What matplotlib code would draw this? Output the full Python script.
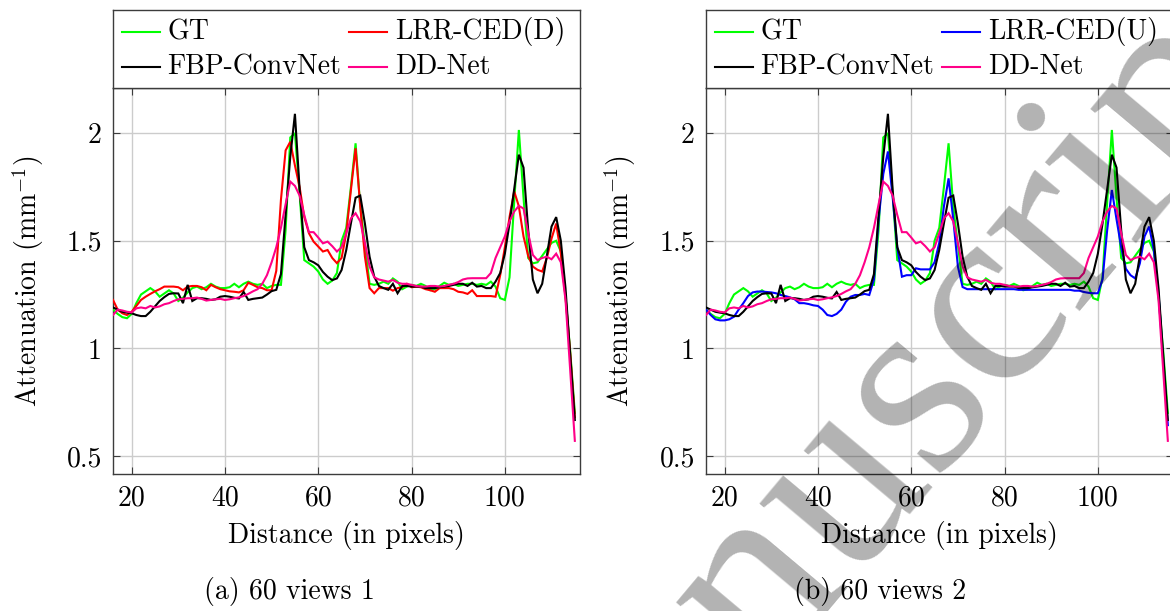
import matplotlib
matplotlib.use("Agg")
import matplotlib.pyplot as plt
from matplotlib.lines import Line2D

plt.rcParams['font.family'] = ['cmr10', 'DejaVu Serif']
plt.rcParams['mathtext.fontset'] = 'cm'
plt.rcParams['axes.formatter.use_mathtext'] = True
plt.rcParams['axes.unicode_minus'] = False

# ---------------- data ----------------
distance = list(range(16, 116))

gt = [1.18, 1.16, 1.145, 1.14, 1.16, 1.21, 1.25, 1.265, 1.28, 1.265,
      1.24, 1.255, 1.27, 1.255, 1.22, 1.235, 1.26, 1.28, 1.287, 1.275,
      1.284, 1.30, 1.287, 1.28, 1.28, 1.284, 1.30, 1.284, 1.30, 1.31,
      1.30, 1.295, 1.30, 1.28, 1.29, 1.295, 1.295, 1.55, 1.98, 2.00,
      1.72, 1.41, 1.395, 1.38, 1.357, 1.32, 1.30, 1.315, 1.35, 1.50,
      1.56, 1.75, 1.953, 1.66, 1.48, 1.30, 1.295, 1.30, 1.31, 1.30,
      1.325, 1.31, 1.275, 1.287, 1.295, 1.29, 1.30, 1.29, 1.27, 1.275,
      1.29, 1.305, 1.295, 1.30, 1.29, 1.295, 1.30, 1.30, 1.295, 1.30,
      1.295, 1.31, 1.287, 1.233, 1.225, 1.33, 1.68, 2.015, 1.70, 1.42,
      1.395, 1.40, 1.43, 1.46, 1.49, 1.50, 1.45, 1.24, 0.99, 0.70]

fbp = [1.19, 1.18, 1.17, 1.166, 1.163, 1.155, 1.15, 1.15, 1.17, 1.195,
       1.22, 1.238, 1.253, 1.256, 1.255, 1.21, 1.295, 1.22, 1.233, 1.233,
       1.23, 1.225, 1.228, 1.24, 1.243, 1.24, 1.235, 1.232, 1.262, 1.225,
       1.23, 1.233, 1.236, 1.25, 1.266, 1.272, 1.345, 1.62, 1.89, 2.09,
       1.74, 1.47, 1.41, 1.40, 1.386, 1.355, 1.333, 1.317, 1.325, 1.364,
       1.457, 1.581, 1.70, 1.71, 1.58, 1.426, 1.333, 1.29, 1.28, 1.272,
       1.30, 1.256, 1.29, 1.29, 1.287, 1.287, 1.287, 1.28, 1.28, 1.28,
       1.284, 1.287, 1.29, 1.295, 1.30, 1.30, 1.29, 1.305, 1.287, 1.29,
       1.28, 1.28, 1.31, 1.35, 1.44, 1.58, 1.74, 1.90, 1.84, 1.55,
       1.32, 1.256, 1.30, 1.43, 1.566, 1.61, 1.50, 1.28, 0.97, 0.667]

lrr_d = [1.225, 1.18, 1.163, 1.155, 1.17, 1.197, 1.225, 1.24, 1.253, 1.265,
         1.275, 1.287, 1.287, 1.287, 1.284, 1.27, 1.287, 1.29, 1.29, 1.284,
         1.27, 1.295, 1.284, 1.275, 1.27, 1.265, 1.263, 1.26, 1.27, 1.305,
         1.295, 1.284, 1.28, 1.27, 1.27, 1.36, 1.69, 1.92, 1.96, 1.85,
         1.75, 1.61, 1.535, 1.496, 1.473, 1.45, 1.457, 1.42, 1.396, 1.42,
         1.535, 1.736, 1.93, 1.66, 1.426, 1.28, 1.256, 1.28, 1.28, 1.28,
         1.268, 1.28, 1.284, 1.30, 1.284, 1.287, 1.284, 1.275, 1.27, 1.263,
         1.28, 1.28, 1.28, 1.275, 1.263, 1.26, 1.253, 1.27, 1.243, 1.243,
         1.243, 1.243, 1.24, 1.34, 1.47, 1.61, 1.73, 1.66, 1.52, 1.43,
         1.38, 1.365, 1.357, 1.42, 1.51, 1.58, 1.44, 1.24, 0.98, 0.68]

lrr_u = [1.18, 1.155, 1.135, 1.13, 1.13, 1.135, 1.147, 1.18, 1.21, 1.243,
         1.26, 1.264, 1.264, 1.262, 1.26, 1.256, 1.248, 1.243, 1.237, 1.228,
         1.21, 1.21, 1.206, 1.20, 1.197, 1.18, 1.155, 1.15, 1.16, 1.18,
         1.217, 1.24, 1.248, 1.248, 1.253, 1.248, 1.32, 1.597, 1.81, 1.915,
         1.705, 1.47, 1.333, 1.34, 1.34, 1.372, 1.367, 1.367, 1.367, 1.40,
         1.49, 1.66, 1.79, 1.60, 1.38, 1.285, 1.275, 1.275, 1.275, 1.275,
         1.275, 1.275, 1.275, 1.275, 1.275, 1.275, 1.275, 1.272, 1.272, 1.272,
         1.272, 1.272, 1.272, 1.272, 1.272, 1.272, 1.272, 1.272, 1.272, 1.268,
         1.268, 1.262, 1.258, 1.256, 1.256, 1.32, 1.55, 1.736, 1.60, 1.47,
         1.37, 1.34, 1.325, 1.395, 1.52, 1.566, 1.457, 1.256, 0.945, 0.643]

ddnet = [1.155, 1.18, 1.176, 1.17, 1.167, 1.186, 1.19, 1.186, 1.197, 1.19,
         1.195, 1.205, 1.21, 1.22, 1.228, 1.23, 1.233, 1.233, 1.236, 1.23,
         1.222, 1.225, 1.228, 1.23, 1.225, 1.228, 1.233, 1.237, 1.243, 1.253,
         1.265, 1.275, 1.30, 1.34, 1.40, 1.47, 1.56, 1.67, 1.775, 1.755,
         1.71, 1.62, 1.54, 1.54, 1.515, 1.488, 1.496, 1.475, 1.45, 1.47,
         1.535, 1.604, 1.628, 1.59, 1.49, 1.38, 1.33, 1.32, 1.315, 1.31,
         1.318, 1.305, 1.30, 1.30, 1.295, 1.29, 1.287, 1.287, 1.29, 1.29,
         1.287, 1.29, 1.295, 1.30, 1.308, 1.32, 1.325, 1.326, 1.326, 1.326,
         1.326, 1.35, 1.42, 1.47, 1.52, 1.59, 1.636, 1.662, 1.65, 1.535,
         1.434, 1.41, 1.42, 1.426, 1.414, 1.44, 1.40, 1.225, 0.90, 0.57]

xticks = [20, 40, 60, 80, 100]
yticks = [0.5, 1, 1.5, 2]
ytick_labels = ['0.5', '1', '1.5', '2']

panels = [
    {"series": [("GT", gt), ("LRR-CED(D)", lrr_d), ("FBP-ConvNet", fbp), ("DD-Net", ddnet)],
     "caption": "(a) 60 views 1"},
    {"series": [("GT", gt), ("LRR-CED(U)", lrr_u), ("FBP-ConvNet", fbp), ("DD-Net", ddnet)],
     "caption": "(b) 60 views 2"},
]
colors = {"GT": "#00ff00", "LRR-CED(D)": "#ff0000", "LRR-CED(U)": "#0000ff",
          "FBP-ConvNet": "#000000", "DD-Net": "#ff0088"}

# ---------------- figure ----------------
W, H = 1170, 611
fig = plt.figure(figsize=(W / 100, H / 100), dpi=100)
fig.patch.set_facecolor('white')

spine_col = '#3c3c3c'
fs = 20

ax_left_px = [113, 706]
ax_w_px = 466.5
ax_top_px, ax_bot_px = 88, 474
leg_top_px = 10
caption_x_px = [289, 880]
ylabel_x_px = [28, 620]

for i, panel in enumerate(panels):
    lx = ax_left_px[i]
    ax = fig.add_axes([lx / W, 1 - ax_bot_px / H, ax_w_px / W, (ax_bot_px - ax_top_px) / H])
    for name, vals in panel["series"]:
        ax.plot(distance, vals, color=colors[name], lw=1.5, solid_joinstyle='miter', zorder=3)
    ax.set_xlim(16, 116)
    ax.set_ylim(0.416, 2.21)
    ax.set_xticks(xticks)
    ax.set_xticklabels([str(t) for t in xticks])
    ax.set_yticks(yticks)
    ax.set_yticklabels(ytick_labels)
    ax.tick_params(direction='in', length=5, width=0.8, color=spine_col,
                   top=True, right=True, labelsize=fs, pad=8)
    ax.grid(True, color='#cccccc', linewidth=1.0)
    ax.set_axisbelow(True)
    for s in ax.spines.values():
        s.set_color(spine_col)
        s.set_linewidth(1.0)
    ax.set_xlabel("Distance (in pixels)", fontsize=fs, va='center')
    ax.xaxis.set_label_coords(0.5, (ax_bot_px - 535) / (ax_bot_px - ax_top_px))
    ax.set_ylabel(r"Attenuation (mm$^{-1}$)", fontsize=fs, va='center', ha='center')
    ax.yaxis.set_label_coords((ylabel_x_px[i] - lx) / ax_w_px, 0.5)

    # legend box above the axes
    lax = fig.add_axes([lx / W, 1 - ax_top_px / H, ax_w_px / W, (ax_top_px - leg_top_px) / H])
    lax.set_xlim(0, 1)
    lax.set_ylim(0, 1)
    lax.set_xticks([])
    lax.set_yticks([])
    for s in lax.spines.values():
        s.set_color(spine_col)
        s.set_linewidth(1.0)
    slots = [(0.019, 0.718), (0.506, 0.718), (0.019, 0.27), (0.506, 0.27)]
    for (name, _), (hx, hy) in zip(panel["series"], slots):
        lax.add_line(Line2D([hx, hx + 0.082], [hy, hy], color=colors[name], lw=1.5))
        lax.text(hx + 0.098, hy, name, fontsize=fs, va='center', ha='left', clip_on=False)

    fig.text(caption_x_px[i] / W, 1 - 591 / H, panel["caption"], fontsize=fs,
             ha='center', va='center')

# watermark
fig.text(538 / W, 1 - 948 / H, "Manuscript", fontsize=190, family='Liberation Serif',
         color='black', alpha=0.3, rotation=50, rotation_mode='anchor',
         ha='left', va='baseline', zorder=10)

fig.savefig("out.png", dpi=100, facecolor='white')
